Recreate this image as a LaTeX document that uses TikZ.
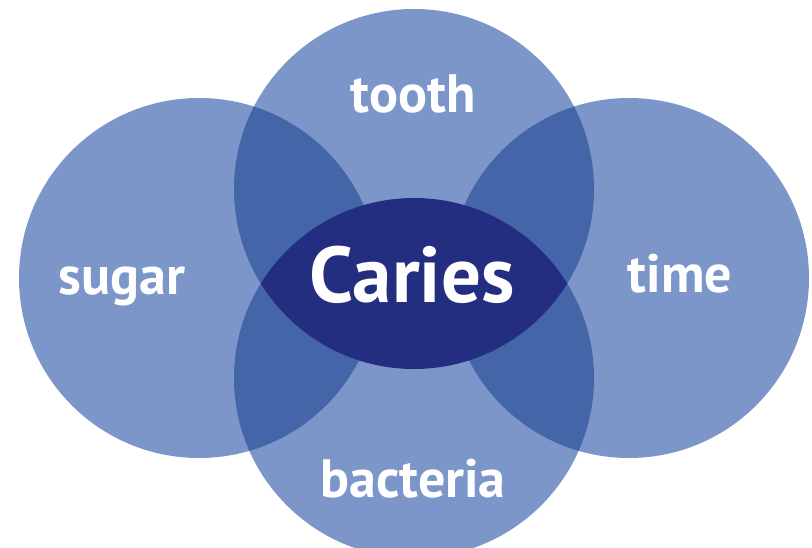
\documentclass[tikz,border=0pt]{standalone}
\usepackage{fontspec}
\setmainfont{PT Sans}
\begin{document}
\begin{tikzpicture}[x=1pt,y=-1pt,
  lbl/.style={text=white,font=\fontsize{54}{54}\selectfont\bfseries,anchor=base,inner sep=0pt},
  big/.style={text=white,font=\fontsize{79}{79}\selectfont\bfseries,anchor=base,inner sep=0pt}]
\definecolor{lightb}{RGB}{124,150,202}
\definecolor{midb}{RGB}{68,101,168}
\definecolor{darkb}{RGB}{36,46,128}
\useasboundingbox (0,0) rectangle (812,548);
\clip (0,0) rectangle (812,548);
\coordinate (L) at (199,278);
\coordinate (R) at (629,278);
\coordinate (T) at (414,189);
\coordinate (B) at (414,378);
\foreach \c in {L,R,T,B} \fill[lightb] (\c) circle[radius=180pt];
\foreach \a in {T,B} {
  \begin{scope}
    \clip (\a) circle[radius=180pt];
    \fill[midb] (L) circle[radius=180pt];
    \fill[midb] (R) circle[radius=180pt];
  \end{scope}
}
\begin{scope}
  \clip (T) circle[radius=180pt];
  \fill[darkb] (B) circle[radius=180pt];
\end{scope}
\node[lbl] (tooth) at (413,113) {tooth};
\node[lbl] (sugar) at (122,295) {sugar};
\node[lbl] (time) at (680,293) {time};
\node[lbl] (bacteria) at (413,497) {bacteria};
\node[big] (caries) at (412,303) {Caries};
\end{tikzpicture}
\end{document}
